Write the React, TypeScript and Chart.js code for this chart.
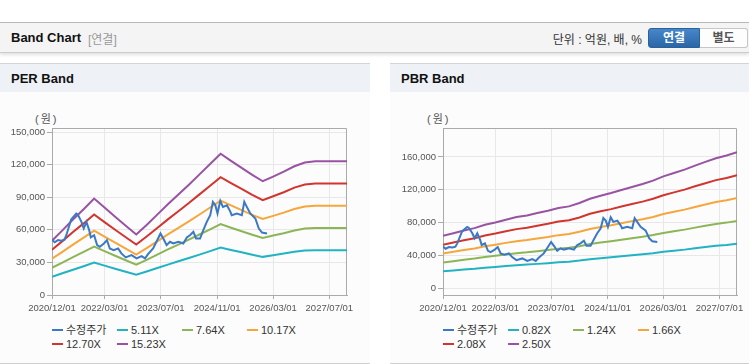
import React, { useEffect, useRef } from 'react';
import { Chart, registerables } from 'chart.js';

Chart.register(...registerables);

// ---------- data ----------
const xTickDates = ['2020/12/01', '2022/03/01', '2023/07/01', '2024/11/01', '2026/03/01', '2027/07/01'];
const xMinDate = '2020/12/01';
const xMaxDate = '2027/12/01';

const priceLabel = '수정주가';
const priceDates = [
  '2020/12/01', '2020/12/24', '2021/01/22', '2021/02/20', '2021/03/19', '2021/04/04', '2021/05/16', '2021/06/29',
  '2021/07/13', '2021/08/13', '2021/09/02', '2021/09/25', '2021/10/19', '2021/11/02', '2021/12/01', '2021/12/27',
  '2022/01/19', '2022/02/24', '2022/03/22', '2022/04/16', '2022/05/19', '2022/06/27', '2022/07/25', '2022/09/01',
  '2022/10/21', '2022/12/04', '2023/01/16', '2023/02/15', '2023/03/13', '2023/04/26', '2023/05/25', '2023/06/29',
  '2023/07/28', '2023/08/21', '2023/09/19', '2023/10/18', '2023/12/01', '2024/01/13', '2024/02/12', '2024/03/10',
  '2024/04/09', '2024/05/02', '2024/06/06', '2024/07/04', '2024/08/03', '2024/09/02', '2024/09/25', '2024/10/16',
  '2024/11/04', '2024/11/28', '2024/12/21', '2025/01/25', '2025/02/24', '2025/03/07', '2025/04/21', '2025/06/03',
  '2025/06/24', '2025/07/16', '2025/08/15', '2025/09/28', '2025/10/28', '2025/11/25', '2026/01/07',
];
const priceValues = [
  51000, 48500, 50500, 50000, 51000, 55000, 69500, 75000,
  74000, 67300, 61200, 67300, 59700, 53000, 55000, 45900,
  44400, 47400, 50500, 42800, 41300, 42800, 38300, 34600,
  36700, 33700, 35800, 33700, 37600, 42800, 49000, 56600,
  51100, 45900, 49000, 47400, 49000, 47400, 53000, 55000,
  58100, 52000, 52000, 59700, 67300, 73400, 85700, 82600,
  75000, 86600, 81100, 82600, 76500, 73400, 75000, 73400,
  85700, 81100, 75000, 70400, 61200, 57500, 56600,
];

const bandDates = [
  '2020/12/01', '2021/03/01', '2021/06/01', '2021/09/01', '2021/12/01', '2022/03/01', '2022/06/01', '2022/09/01',
  '2022/12/01', '2023/03/01', '2023/06/01', '2023/09/01', '2023/12/01', '2024/03/01', '2024/06/01', '2024/09/01',
  '2024/12/01', '2025/03/01', '2025/06/01', '2025/09/01', '2025/12/01', '2026/03/01', '2026/06/01', '2026/09/01',
  '2026/12/01', '2027/03/01', '2027/06/01', '2027/09/01', '2027/12/01',
];

// PER band
const perBandLabels = ['5.11X', '7.64X', '10.17X', '12.70X', '15.23X'];
const per511 = [16800, 20000, 23300, 26500, 29800, 27000, 24200, 21400, 18700, 21600, 24800, 28000, 31000, 34100, 37200, 40400, 43600, 41400, 39300, 37100, 35100, 36600, 38100, 39800, 40900, 41300, 41300, 41300, 41300];
const per764 = [25100, 29800, 34900, 39600, 44500, 40400, 36100, 32000, 27900, 32400, 37100, 41900, 46400, 50900, 55700, 60400, 65200, 61900, 58700, 55400, 52500, 54700, 56900, 59400, 61200, 61700, 61700, 61700, 61700];
const per1017 = [33400, 39700, 46400, 52800, 59300, 53800, 48100, 42600, 37200, 43100, 49400, 55800, 61800, 67800, 74100, 80500, 86800, 82500, 78100, 73800, 69900, 72800, 75800, 79100, 81500, 82100, 82100, 82100, 82100];
const per1270 = [41700, 49600, 58000, 65900, 74100, 67100, 60000, 53200, 46400, 53800, 61700, 69600, 77100, 84600, 92600, 100500, 108400, 103000, 97600, 92100, 87300, 90900, 94600, 98800, 101700, 102600, 102600, 102600, 102600];
const per1523 = [50000, 59500, 69500, 79000, 88800, 80500, 72000, 63800, 55700, 64500, 74000, 83500, 92500, 101500, 111000, 120500, 130000, 123500, 117000, 110500, 104700, 109000, 113500, 118500, 122000, 123000, 123000, 123000, 123000];
const perYTicks = [0, 30000, 60000, 90000, 120000, 150000];
const perYMin = 0;
const perYMax = 153700;

// PBR band
const pbrBandLabels = ['0.82X', '1.24X', '1.66X', '2.08X', '2.50X'];
const pbr082 = [21100, 22100, 23200, 24100, 25500, 26400, 27500, 28500, 29200, 30100, 31000, 32100, 32800, 34100, 35800, 37000, 38100, 39300, 40500, 41700, 43000, 44700, 46100, 47400, 49000, 50500, 52000, 53000, 54400];
const pbr124 = [31800, 33400, 35100, 36500, 38500, 39900, 41500, 43100, 44100, 45500, 46900, 48600, 49600, 51600, 54200, 56000, 57600, 59400, 61300, 63000, 65100, 67700, 69700, 71700, 74100, 76300, 78600, 80200, 82200];
const pbr166 = [42600, 44800, 46900, 48800, 51500, 53400, 55600, 57700, 59000, 61000, 62800, 65000, 66300, 69100, 72500, 75000, 77100, 79500, 82000, 84400, 87100, 90600, 93300, 96000, 99200, 102200, 105200, 107400, 110000];
const pbr208 = [53400, 56100, 58800, 61200, 64600, 66900, 69600, 72300, 74000, 76400, 78700, 81500, 83100, 86500, 90900, 93900, 96600, 99700, 102800, 105700, 109200, 113500, 116900, 120300, 124300, 128000, 131800, 134500, 137900];
const pbr250 = [64200, 67400, 70700, 73500, 77600, 80400, 83700, 86900, 88900, 91800, 94600, 97900, 99900, 104000, 109200, 112900, 116100, 119800, 123500, 127100, 131200, 136400, 140500, 144600, 149400, 153900, 158400, 161700, 165700];
const pbrYTicks = [0, 40000, 80000, 120000, 160000];
const pbrYMin = -7700;
const pbrYMax = 195100;

// ---------- styles ----------
const COLORS = ['#3b78c6', '#22b3c3', '#8cb655', '#f5a73c', '#d1352f', '#9853a2'];
const FONT = '"Liberation Sans", Arial, "Noto Sans CJK KR", sans-serif';
const TICK_FONT = { family: '"Liberation Sans", Arial, sans-serif', size: 9.5 };

const toDay = (s: string) => {
  const [y, m, d] = s.split('/').map(Number);
  return (Date.UTC(y, m - 1, d) - Date.UTC(2020, 11, 1)) / 86400000;
};

const plotBorder = {
  id: 'plotBorder',
  beforeDatasetsDraw(chart: any) {
    const { ctx, chartArea: a } = chart;
    const l = Math.round(a.left) + 0.5;
    const t = Math.round(a.top) + 0.5;
    const r = Math.round(a.right) - 0.5;
    const b = Math.round(a.bottom) + 0.5;
    ctx.save();
    ctx.strokeStyle = '#aaaaaa';
    ctx.lineWidth = 1;
    ctx.beginPath();
    ctx.moveTo(l, t);
    ctx.lineTo(r, t);
    ctx.lineTo(r, b);
    ctx.stroke();
    ctx.restore();
  },
};

type BandProps = {
  width: number;
  height: number;
  yWidth: number;
  padRight: number;
  yMin: number;
  yMax: number;
  yTicks: number[];
  labels: string[];
  bands: number[][];
};

function BandCanvas(p: BandProps) {
  const ref = useRef<HTMLCanvasElement | null>(null);
  useEffect(() => {
    if (!ref.current) return;
    const datasets: any[] = [
      {
        label: priceLabel,
        data: priceDates.map((d, i) => ({ x: toDay(d), y: priceValues[i] })),
        borderColor: COLORS[0],
        borderWidth: 2,
        pointRadius: 0,
        tension: 0,
      },
      ...p.bands.map((vals, bi) => ({
        label: p.labels[bi],
        data: bandDates.map((d, i) => ({ x: toDay(d), y: vals[i] })),
        borderColor: COLORS[bi + 1],
        borderWidth: 2,
        pointRadius: 0,
        tension: 0,
      })),
    ];
    const chart = new Chart(ref.current, {
      type: 'line',
      data: { datasets },
      plugins: [plotBorder],
      options: {
        responsive: false,
        animation: false,
        devicePixelRatio: 1,
        layout: { padding: { top: 35, right: p.padRight, left: 0, bottom: 0 } },
        plugins: { legend: { display: false }, tooltip: { enabled: false } },
        scales: {
          x: {
            type: 'linear',
            min: toDay(xMinDate),
            max: toDay(xMaxDate),
            afterBuildTicks: (s: any) => {
              s.ticks = xTickDates.map((d) => ({ value: toDay(d) }));
            },
            afterFit: (s: any) => {
              s.height = 28;
            },
            ticks: {
              autoSkip: false,
              maxRotation: 0,
              padding: 4,
              color: '#555',
              font: TICK_FONT,
              callback: (_v: any, i: number) => xTickDates[i],
            },
            grid: { color: '#e8e8e8', tickColor: '#aaaaaa', tickLength: 4 },
            border: { color: '#aaaaaa' },
          },
          y: {
            type: 'linear',
            min: p.yMin,
            max: p.yMax,
            afterBuildTicks: (s: any) => {
              s.ticks = p.yTicks.map((v) => ({ value: v }));
            },
            afterFit: (s: any) => {
              s.width = p.yWidth;
            },
            ticks: {
              padding: 2,
              color: '#555',
              font: TICK_FONT,
              callback: (v: any) => Number(v).toLocaleString('en-US'),
            },
            grid: { color: '#e8e8e8', tickColor: '#aaaaaa', tickLength: 5 },
            border: { color: '#aaaaaa' },
          },
        },
      },
    } as any);
    return () => chart.destroy();
  }, []);
  return <canvas ref={ref} width={p.width} height={p.height} style={{ display: 'block', width: p.width, height: p.height }} />;
}

function Legend({ left, labels }: { left: number; labels: string[] }) {
  const all = [priceLabel, ...labels];
  return (
    <div style={{ position: 'absolute', left, top: 323, width: 280, height: 28 }}>
      {all.map((lab, i) => (
        <div
          key={lab}
          style={{
            position: 'absolute',
            left: (i % 4) * 65,
            top: Math.floor(i / 4) * 14,
            height: 14,
            lineHeight: '14px',
            whiteSpace: 'nowrap',
            fontSize: 11,
            color: '#333',
            display: 'flex',
            alignItems: 'center',
          }}
        >
          <span style={{ display: 'inline-block', width: 11, height: 2, background: COLORS[i], marginRight: 3 }} />
          <span>{lab}</span>
        </div>
      ))}
    </div>
  );
}

function Panel({ left, width, title }: { left: number; width: number; title: string }) {
  return (
    <div
      style={{
        position: 'absolute',
        left,
        top: 63,
        width,
        height: 299,
        borderTop: '1px solid #d4d4d4',
        borderBottom: '1px solid #cfcfcf',
        background: '#fcfcfc',
      }}
    >
      <div
        style={{
          height: 28,
          background: '#eef1f6',
          fontWeight: 'bold',
          fontSize: 13,
          lineHeight: '30px',
          paddingLeft: 11,
          color: '#111',
        }}
      >
        {title}
      </div>
    </div>
  );
}

export default function App() {
  return (
    <div
      style={{
        position: 'absolute',
        left: 0,
        top: 0,
        width: 749,
        height: 364,
        overflow: 'hidden',
        background: '#fff',
        fontFamily: FONT,
      }}
    >
      {/* header bar */}
      <div
        style={{
          position: 'absolute',
          left: 0,
          top: 22,
          width: 749,
          height: 29,
          borderTop: '1px solid #b8b8b8',
          borderBottom: '1px solid #cccccc',
          background: '#f4f4f4',
          boxShadow: '0 2px 3px rgba(0,0,0,0.12)',
        }}
      >
        <span style={{ position: 'absolute', left: 11, top: 7, fontWeight: 'bold', fontSize: 13, color: '#111' }}>
          Band Chart
        </span>
        <span style={{ position: 'absolute', left: 88, top: 7, fontSize: 12, color: '#999' }}>[연결]</span>
        <span style={{ position: 'absolute', right: 749 - 642, top: 7, fontSize: 12, color: '#333' }}>
          단위 : 억원, 배, %
        </span>
        <div
          style={{
            position: 'absolute',
            left: 648,
            top: 5,
            width: 50,
            height: 18,
            border: '1px solid #2b609c',
            borderRadius: '3px 0 0 3px',
            background: 'linear-gradient(#4687ca, #2a66a6)',
            color: '#fff',
            fontWeight: 'bold',
            fontSize: 12,
            lineHeight: '18px',
            textAlign: 'center',
          }}
        >
          연결
        </div>
        <div
          style={{
            position: 'absolute',
            left: 700,
            top: 5,
            width: 47,
            height: 18,
            border: '1px solid #c6c6c6',
            borderLeft: 'none',
            borderRadius: '0 3px 3px 0',
            background: '#fdfdfd',
            color: '#555',
            fontWeight: 'bold',
            fontSize: 12,
            lineHeight: '18px',
            textAlign: 'center',
          }}
        >
          별도
        </div>
      </div>

      <Panel left={0} width={370} title="PER Band" />
      <Panel left={390} width={359} title="PBR Band" />

      <div style={{ position: 'absolute', left: 35, top: 110, fontSize: 11, letterSpacing: 2, color: '#555' }}>(원)</div>
      <div style={{ position: 'absolute', left: 427, top: 110, fontSize: 11, letterSpacing: 2, color: '#555' }}>(원)</div>

      <div style={{ position: 'absolute', left: 0, top: 93 }}>
        <BandCanvas
          width={370}
          height={230}
          yWidth={52}
          padRight={23}
          yMin={perYMin}
          yMax={perYMax}
          yTicks={perYTicks}
          labels={perBandLabels}
          bands={[per511, per764, per1017, per1270, per1523]}
        />
      </div>
      <div style={{ position: 'absolute', left: 390, top: 93 }}>
        <BandCanvas
          width={359}
          height={230}
          yWidth={53}
          padRight={12}
          yMin={pbrYMin}
          yMax={pbrYMax}
          yTicks={pbrYTicks}
          labels={pbrBandLabels}
          bands={[pbr082, pbr124, pbr166, pbr208, pbr250]}
        />
      </div>

      <Legend left={52} labels={perBandLabels} />
      <Legend left={443} labels={pbrBandLabels} />
    </div>
  );
}
